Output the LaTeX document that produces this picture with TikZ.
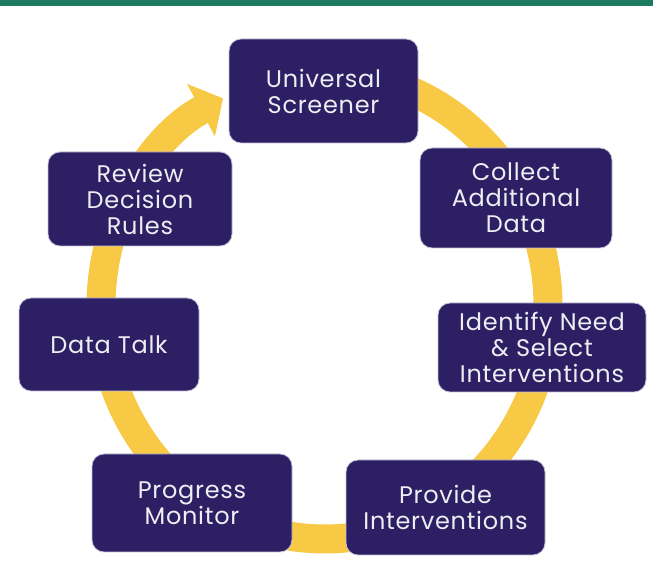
\documentclass[tikz,border=0pt]{standalone}
\usepackage{fontspec}
\setmainfont{Poppins}[LetterSpace=3]
\usetikzlibrary{arrows.meta}
\definecolor{boxc}{HTML}{2D1F63}
\definecolor{edgec}{HTML}{C4C0D8}
\definecolor{ringc}{HTML}{F8C945}
\definecolor{greenc}{HTML}{1D7A60}
\begin{document}
\begin{tikzpicture}[x=1pt,y=1pt,
  stepbox/.style={rectangle, rounded corners=12pt, fill=boxc, draw=edgec, line width=0.8pt,
    text=white!92!boxc, align=center, font=\fontsize{24}{26}\selectfont, inner sep=0pt},
  ring/.style={draw=ringc, line width=29pt, -{Triangle[length=25pt,width=58pt]}}
]
\useasboundingbox (0,0) rectangle (653,580);
\fill[greenc] (0,574) rectangle (653,580);
\coordinate (c) at (324.5,274);
\draw[ring] (c) ++(85:223.5 and 233) arc[start angle=85, end angle=-243, x radius=223.5, y radius=233];
\node[stepbox, minimum width=189pt, minimum height=104pt] (us) at (323.5,489) {Universal\\Screener};
\node[stepbox, minimum width=192pt, minimum height=100pt] (cad) at (516,382) {Collect\\Additional\\Data};
\node[stepbox, minimum width=208pt, minimum height=89pt] (idn) at (542,232.5) {Identify Need\\\& Select\\Interventions};
\node[stepbox, minimum width=199pt, minimum height=95pt] (pi) at (445.5,72.5) {Provide\\Interventions};
\node[stepbox, minimum width=200pt, minimum height=98pt] (pm) at (192,77) {Progress\\Monitor};
\node[stepbox, minimum width=180pt, minimum height=93pt] (dt) at (109,235.5) {Data Talk};
\node[stepbox, minimum width=184pt, minimum height=94pt] (rdr) at (140,381) {Review\\Decision\\Rules};
\end{tikzpicture}
\end{document}
